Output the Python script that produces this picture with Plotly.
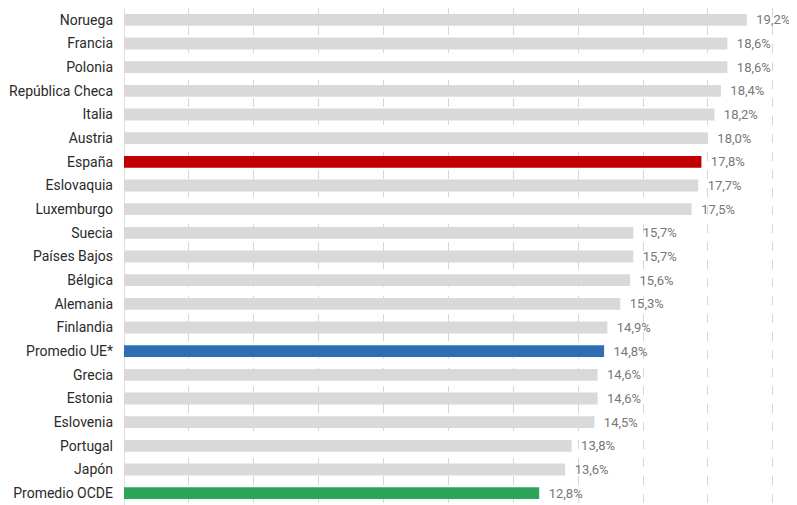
import plotly.graph_objects as go

countries = ["Noruega", "Francia", "Polonia", "República Checa", "Italia", "Austria",
             "España", "Eslovaquia", "Luxemburgo", "Suecia", "Países Bajos", "Bélgica",
             "Alemania", "Finlandia", "Promedio UE*", "Grecia", "Estonia", "Eslovenia",
             "Portugal", "Japón", "Promedio OCDE"]
values = [19.2, 18.6, 18.6, 18.4, 18.2, 18.0, 17.8, 17.7, 17.5, 15.7, 15.7, 15.6,
          15.3, 14.9, 14.8, 14.6, 14.6, 14.5, 13.8, 13.6, 12.8]
highlight = {"España": "#c00000", "Promedio UE*": "#2e6fb4", "Promedio OCDE": "#2ba55a"}

colors = [highlight.get(c, "#d9d9d9") for c in countries]
labels = ["  " + f"{v:.1f}".replace(".", ",") + "%" for v in values]

fig = go.Figure(go.Bar(
    x=values, y=countries, orientation="h",
    marker=dict(color=colors, line=dict(width=0)),
    width=0.5,
    text=labels, textposition="outside", cliponaxis=False, constraintext="none",
    textfont=dict(color="#777777", size=13, family="Roboto"),
))

fig.update_layout(
    width=789, height=497,
    margin=dict(l=116, r=8, t=0, b=0, autoexpand=False),
    plot_bgcolor="white", paper_bgcolor="white",
    showlegend=False,
    font=dict(family="Roboto", size=14, color="#2a2a2a"),
    xaxis=dict(range=[0, 20.5], dtick=2, showticklabels=False, automargin=False,
               showgrid=True, gridcolor="#d6d6d6", griddash="dash", gridwidth=1,
               zeroline=True, zerolinecolor="#e0e0e0", zerolinewidth=1),
    yaxis=dict(autorange="reversed", showgrid=False, ticklabelstandoff=10, automargin=False,
               tickfont=dict(size=14, color="#2a2a2a", family="Roboto")),
)

fig.write_html("out.html")
